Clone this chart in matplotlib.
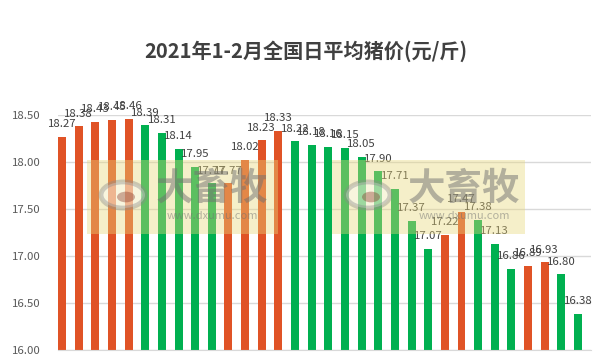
import matplotlib
matplotlib.use("Agg")
import matplotlib.pyplot as plt
from matplotlib.patches import Rectangle, Circle
import numpy as np

plt.rcParams['font.family'] = ['Noto Sans CJK SC', 'DejaVu Sans']

title = "2021年1-2月全国日平均猪价(元/斤)"
prices = [18.27, 18.38, 18.43, 18.45, 18.46, 18.39, 18.31, 18.14, 17.95, 17.77,
          17.77, 18.02, 18.23, 18.33, 18.22, 18.18, 18.16, 18.15, 18.05, 17.90,
          17.71, 17.37, 17.07, 17.22, 17.47, 17.38, 17.13, 16.86, 16.89, 16.93,
          16.80, 16.38]
# 'up' = orange (rise/flat), 'down' = green
trend = ['up', 'up', 'up', 'up', 'up', 'down', 'down', 'down', 'down', 'down',
         'up', 'up', 'up', 'up', 'down', 'down', 'down', 'down', 'down', 'down',
         'down', 'down', 'down', 'up', 'up', 'down', 'down', 'down', 'up', 'up',
         'down', 'down']
yticks = [16.00, 16.50, 17.00, 17.50, 18.00, 18.50]

ORANGE = '#E05326'
GREEN = '#00B050'
colors = [ORANGE if t == 'up' else GREEN for t in trend]

W, H = 612, 363
fig = plt.figure(figsize=(W / 100, H / 100), dpi=100)
fig.patch.set_facecolor('white')

left, right, top, bottom = 57.5, 591, 115, 349.5
ax = fig.add_axes([left / W, 1 - bottom / H, (right - left) / W, (bottom - top) / H])

x = np.arange(len(prices))
ax.bar(x, [p - yticks[0] for p in prices], bottom=yticks[0], width=0.48,
       color=colors, zorder=2)

for xi, p in zip(x, prices):
    ax.annotate(f"{p:.2f}", (xi, p), xytext=(0, 7), textcoords='offset points',
                ha='center', va='baseline', fontsize=8.2, color='#404040',
                annotation_clip=False, zorder=5)

ax.set_ylim(yticks[0], yticks[-1])
ax.set_xlim(-0.27, len(prices) - 1 + 0.78)
ax.set_yticks(yticks)
ax.set_yticklabels([f"{v:.2f}" for v in yticks], fontsize=8.2, color='#595959')
ax.set_xticks([])
ax.tick_params(axis='y', length=0, pad=12)
ax.grid(axis='y', color='#D9D9D9', linewidth=1, zorder=0)
for s in ['top', 'right', 'left']:
    ax.spines[s].set_visible(False)
ax.spines['bottom'].set_color('#D9D9D9')
ax.set_facecolor('none')

fig.text(305.5 / W, 1 - 51 / H, title, ha='center', va='center',
         fontsize=14.5, fontweight='bold', color='#404040')

# watermarks
def watermark(x0, x1, logo_x, text_x):
    y0, y1 = 160, 234
    fig.patches.append(Rectangle((x0 / W, 1 - y1 / H), (x1 - x0) / W, (y1 - y0) / H,
                                 transform=fig.transFigure, facecolor='#E8D77A',
                                 alpha=0.4, edgecolor='none', zorder=10))
    r = 22
    fig.patches.append(Circle((logo_x / W, 1 - 195 / H), r / W, transform=fig.transFigure,
                              facecolor='#FFFFFF', alpha=0.4, edgecolor='#8a8a8a',
                              linewidth=3.5, zorder=11))
    fig.patches.append(Circle(((logo_x + 3) / W, 1 - 197 / H), 9 / W, transform=fig.transFigure,
                              facecolor='#8a3a2a', alpha=0.4, edgecolor='none', zorder=11))
    fig.text(text_x / W, 1 - 188 / H, "大畜牧", ha='center', va='center', fontsize=27,
             fontweight='bold', color='#707070', alpha=0.5, zorder=12)
    fig.text(text_x / W, 1 - 216 / H, "www.dxumu.com", ha='center', va='center', fontsize=8,
             color='#707070', alpha=0.5, zorder=12)

watermark(87, 278, 123, 212)
watermark(332, 525, 368, 464)

fig.savefig("out.png", dpi=100, facecolor='white')
